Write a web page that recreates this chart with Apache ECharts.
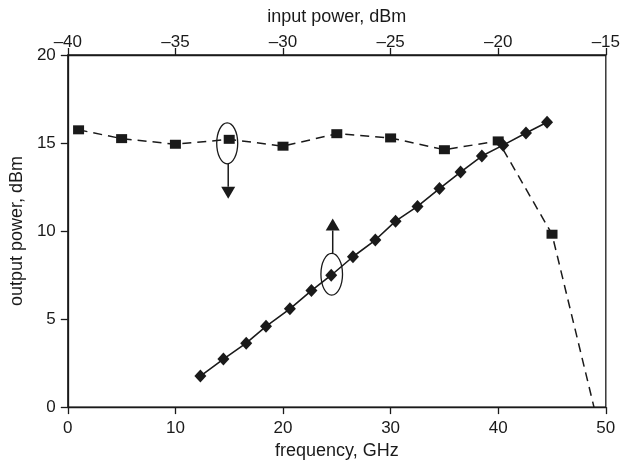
<!DOCTYPE html>
<html>
<head>
<meta charset="utf-8">
<script src="https://cdn.jsdelivr.net/npm/echarts@6/dist/echarts.min.js"></script>
<style>html,body{margin:0;padding:0;background:#fff;}#c{width:623px;height:465px;}</style>
</head>
<body>
<div id="c"></div>
<script>
// frequency sweep (bottom axis), squares, dashed
const freqGHz = [1, 5, 10, 15, 20, 25, 30, 35, 40, 45, 48.9];
const outVsFreq = [15.75, 15.25, 14.93, 15.21, 14.82, 15.53, 15.29, 14.62, 15.12, 9.82, 0];
// power sweep (top axis), diamonds, solid
const inPower = [-33.84, -32.77, -31.71, -30.79, -29.68, -28.68, -27.76, -26.75, -25.71, -24.77, -23.75, -22.73, -21.75, -20.76, -19.77, -18.71, -17.73];
const outVsPower = [1.76, 2.73, 3.63, 4.59, 5.58, 6.62, 7.49, 8.54, 9.49, 10.56, 11.40, 12.41, 13.35, 14.26, 14.88, 15.57, 16.18];
const freqTicks = [0, 10, 20, 30, 40, 50];
const powerTicks = [-40, -35, -30, -25, -20, -15];
const outTicks = [0, 5, 10, 15, 20];
// annotated points (index into series)
const annotSquareIdx = 3;
const annotDiamondIdx = 6;

const ink = '#1a1a1a';
const font = '"Liberation Sans", Arial, sans-serif';

const chart = echarts.init(document.getElementById('c'), null, {renderer: 'canvas'});

const sqData = freqGHz.map((f, i) => {
  const item = {value: [f, outVsFreq[i]]};
  if (i === freqGHz.length - 1) item.symbol = 'none';
  return item;
});
const dmData = inPower.map((p, i) => [p, outVsPower[i]]);

const axisCommon = {
  axisLine: {show: true, onZero: false, lineStyle: {color: ink, width: 1.3}},
  axisTick: {show: true, inside: false, length: 7, lineStyle: {color: ink, width: 1.3}},
  splitLine: {show: false},
  axisLabel: {color: ink, fontSize: 17, fontFamily: font},
  nameTextStyle: {color: ink, fontSize: 18, fontFamily: font},
  nameLocation: 'middle'
};
const dashFmt = v => (v < 0 ? '\u2013' : '') + Math.abs(v);

chart.setOption({
  animation: false,
  backgroundColor: '#fff',
  grid: {left: 62, right: 11, top: 55, bottom: 52, show: true, borderColor: ink, borderWidth: 1.3, containLabel: false},
  xAxis: [
    Object.assign({}, axisCommon, {
      type: 'value', position: 'bottom', min: freqTicks[0], max: freqTicks[freqTicks.length - 1], interval: 10,
      name: 'frequency, GHz', nameGap: 29,
      axisLabel: Object.assign({}, axisCommon.axisLabel, {margin: 13})
    }),
    Object.assign({}, axisCommon, {
      type: 'value', position: 'top', min: powerTicks[0], max: powerTicks[powerTicks.length - 1], interval: 5,
      name: 'input power, dBm', nameGap: 29,
      axisLabel: Object.assign({}, axisCommon.axisLabel, {margin: 4, formatter: dashFmt})
    })
  ],
  yAxis: [
    Object.assign({}, axisCommon, {
      type: 'value', position: 'left', min: outTicks[0], max: outTicks[outTicks.length - 1], interval: 5,
      name: 'output power, dBm', nameGap: 27,
      axisLabel: Object.assign({}, axisCommon.axisLabel, {margin: 12})
    })
  ],
  series: [
    {
      type: 'line', xAxisIndex: 0, yAxisIndex: 0, data: sqData,
      symbol: 'rect', symbolSize: [11, 9], smooth: false,
      lineStyle: {color: ink, width: 1.5, type: [9, 6]},
      itemStyle: {color: ink}, z: 3
    },
    {
      type: 'line', xAxisIndex: 1, yAxisIndex: 0, data: dmData,
      symbol: 'diamond', symbolSize: [12, 13],
      lineStyle: {color: ink, width: 1.6, type: 'solid'},
      itemStyle: {color: ink}, z: 4
    }
  ]
});

function annot(pt, dx, dy, rx, ry, dir) {
  const cx = pt[0] + dx, cy = pt[1] + dy;
  const els = [];
  els.push({type: 'ellipse', shape: {cx: cx, cy: cy, rx: rx, ry: ry}, style: {fill: 'none', stroke: ink, lineWidth: 1.3}, z: 10});
  const x = cx + 1;
  const start = cy + dir * ry;
  const tip = start + dir * 35;
  const base = tip - dir * 12;
  els.push({type: 'line', shape: {x1: x, y1: start, x2: x, y2: base}, style: {stroke: ink, lineWidth: 1.5}, z: 10});
  els.push({type: 'polygon', shape: {points: [[x - 7, base], [x + 7, base], [x, tip]]}, style: {fill: ink}, z: 10});
  return els;
}
const pSq = chart.convertToPixel({xAxisIndex: 0, yAxisIndex: 0}, [freqGHz[annotSquareIdx], outVsFreq[annotSquareIdx]]);
const pDm = chart.convertToPixel({xAxisIndex: 1, yAxisIndex: 0}, [inPower[annotDiamondIdx], outVsPower[annotDiamondIdx]]);
chart.setOption({
  graphic: [].concat(annot(pSq, -2, 4, 10.5, 20.5, 1), annot(pDm, 0.5, -1, 10.8, 20.8, -1))
});
</script>
</body>
</html>
